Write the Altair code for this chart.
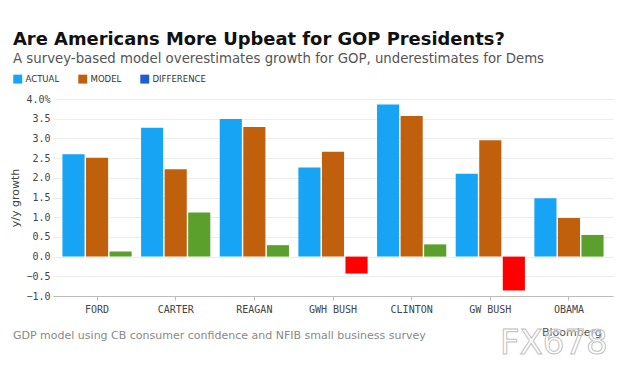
import altair as alt
import pandas as pd

presidents = ["FORD", "CARTER", "REAGAN", "GWH BUSH", "CLINTON", "GW BUSH", "OBAMA"]
actual = [2.6, 3.27, 3.49, 2.26, 3.86, 2.1, 1.48]
model = [2.51, 2.22, 3.29, 2.66, 3.57, 2.95, 0.98]
difference = [0.13, 1.12, 0.29, -0.43, 0.31, -0.86, 0.55]
series_names = ["ACTUAL", "MODEL", "DIFFERENCE"]

rows = []
for i, p in enumerate(presidents):
    rows.append({"president": p, "series": "ACTUAL", "value": actual[i], "ckey": "ACTUAL"})
    rows.append({"president": p, "series": "MODEL", "value": model[i], "ckey": "MODEL"})
    rows.append({"president": p, "series": "DIFFERENCE", "value": difference[i],
                 "ckey": "POS" if difference[i] >= 0 else "NEG"})
df = pd.DataFrame(rows)

W, H = 560, 197

color_scale = alt.Scale(
    domain=["ACTUAL", "MODEL", "DIFFERENCE", "POS", "NEG"],
    range=["#17a4f4", "#c1600c", "#1d5fcf", "#5b9f2d", "#fe0000"],
)

bars = alt.Chart(df).mark_bar().encode(
    x=alt.X("president:N", sort=presidents, title=None,
            scale=alt.Scale(paddingInner=0.12, paddingOuter=0.12),
            axis=alt.Axis(labelAngle=0, labelFont="DejaVu Sans Mono", labelFontSize=10,
                          labelColor="#444", domainColor="#bbb", tickColor="#bbb",
                          tickSize=4, labelPadding=4, grid=False)),
    xOffset=alt.XOffset("series:N", sort=series_names,
                        scale=alt.Scale(paddingInner=0.06, paddingOuter=0)),
    y=alt.Y("value:Q", title="y/y growth",
            scale=alt.Scale(domain=[-1, 4], nice=False),
            axis=alt.Axis(values=[-1, -0.5, 0, 0.5, 1, 1.5, 2, 2.5, 3, 3.5, 4],
                          labelExpr="datum.value == 4 ? '4.0%' : format(datum.value, '.1f')",
                          labelFont="DejaVu Sans Mono", labelFontSize=10, labelColor="#444",
                          domain=False, ticks=False, gridColor="#ececec", labelPadding=3,
                          titleFont="DejaVu Sans", titleFontSize=11, titleFontWeight="normal",
                          titleColor="#444", titlePadding=5)),
    color=alt.Color("ckey:N", scale=color_scale,
                    legend=alt.Legend(values=["ACTUAL", "MODEL", "DIFFERENCE"], title=None,
                                      orient="none", legendX=-40, legendY=-25,
                                      direction="horizontal", symbolType="square",
                                      symbolSize=80, symbolStrokeWidth=0,
                                      labelFont="DejaVu Sans Condensed", labelFontSize=9.5,
                                      labelColor="#333", columnPadding=18, symbolOffset=0,
                                      labelOffset=3)),
)

footer = alt.Chart(pd.DataFrame({"t": ["GDP model using CB consumer confidence and NFIB small business survey"]})).mark_text(
    align="left", baseline="middle", font="DejaVu Sans", fontSize=11, color="#888"
).encode(text="t:N", x=alt.value(-40), y=alt.value(H + 40))

brand = alt.Chart(pd.DataFrame({"t": ["Bloomberg"]})).mark_text(
    align="left", baseline="middle", font="DejaVu Sans", fontSize=11, color="#555"
).encode(text="t:N", x=alt.value(489), y=alt.value(H + 37))

watermark = alt.Chart(pd.DataFrame({"t": ["FX678"]})).mark_text(
    align="left", baseline="middle", font="DejaVu Sans", fontSize=34, color="#ffffff",
    fillOpacity=0.45, stroke="#bfbfbf", strokeWidth=1
).encode(text="t:N", x=alt.value(447), y=alt.value(H + 48))

chart = alt.layer(bars, footer, brand, watermark).properties(
    width=W, height=H,
    autosize=alt.AutoSizeParams(type="none"),
    padding={"left": 45, "top": 91, "right": 8, "bottom": 70},
    title=alt.TitleParams(
        text="Are Americans More Upbeat for GOP Presidents?",
        subtitle="A survey-based model overestimates growth for GOP, underestimates for Dems",
        anchor="start", frame="group", dx=-40, offset=9,
        font="DejaVu Sans", fontSize=17.9, fontWeight="bold", color="#111",
        subtitleFont="DejaVu Sans", subtitleFontSize=13.3, subtitleColor="#555",
        subtitlePadding=3,
    ),
).configure(background="white").configure_view(stroke=None)

chart.save("out.html", embed_options={"renderer": "svg", "actions": False})
